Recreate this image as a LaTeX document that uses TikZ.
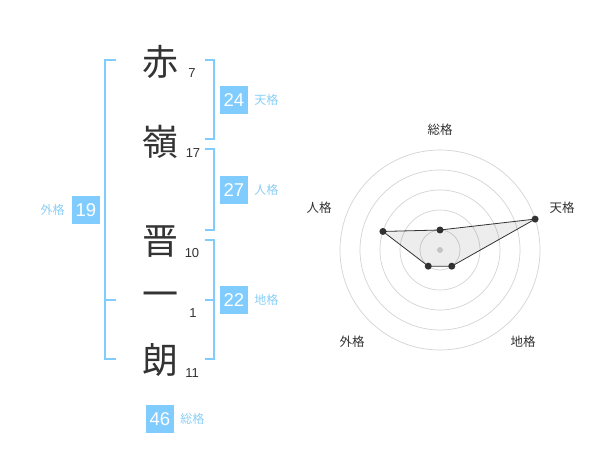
\documentclass[tikz,border=0pt]{standalone}
\usepackage{fontspec}
\setmainfont{Liberation Sans}
\newfontfamily\jp{Noto Sans CJK JP}
\usetikzlibrary{positioning}

\definecolor{kakublue}{HTML}{80CCFF}
\definecolor{kakutext}{HTML}{8ACFF6}
\definecolor{inkgray}{HTML}{333333}
\definecolor{ringgray}{HTML}{D4D4D4}

\begin{document}
\begin{tikzpicture}[
    x=1pt,y=-1pt,
    kanji/.style={font=\jp\fontsize{36}{36}\selectfont,text=inkgray,inner sep=0pt},
    strokes/.style={font=\fontsize{13}{13}\selectfont,text=inkgray,inner sep=0pt},
    score/.style={fill=kakublue,text=white,minimum size=28pt,inner sep=0pt,
        font=\fontsize{18.5}{18.5}\selectfont},
    kaku/.style={font=\jp\fontsize{12}{12}\selectfont,text=kakutext,inner sep=0pt},
    bracket/.style={draw=kakublue,line width=2pt},
    ring/.style={draw=ringgray,line width=0.7pt},
    axis/.style={font=\jp\fontsize{12.5}{12.5}\selectfont,text=inkgray,inner sep=0pt},
    dot/.style={circle,fill=inkgray,minimum size=7pt,inner sep=0pt}
]
\path[use as bounding box,fill=white] (0,0) rectangle (600,470);

% name, one character per line, with stroke counts
\node[kanji] (c1) at (160,62) {赤};
\node[kanji] (c2) at (160,142) {嶺};
\node[kanji] (c3) at (160,242) {晋};
\node[kanji] (c4) at (160,300) {一};
\node[kanji] (c5) at (160,360) {朗};
\node[strokes] (n1) at (192,73) {7};
\node[strokes] (n2) at (193,153) {17};
\node[strokes] (n3) at (192,253) {10};
\node[strokes] (n4) at (193,313) {1};
\node[strokes] (n5) at (192,373) {11};

\draw[bracket] (116,60) -| (105,359) -- (116,359);
\draw[bracket] (105,300) -- (116,300);
\draw[bracket] (205,60) -| (214,139) -- (205,139);
\draw[bracket] (205,149) -| (214,230) -- (205,230);
\draw[bracket] (205,240) -| (214,359) -- (205,359);
\draw[bracket] (205,300) -- (214,300);

\node[score] (ten) at (234,100) {24};
\node[kaku,right=6pt of ten] (tenl) {天格};
\node[score] (jin) at (234,190) {27};
\node[kaku,right=6pt of jin] (jinl) {人格};
\node[score] (chi) at (234,300) {22};
\node[kaku,right=6pt of chi] (chil) {地格};
\node[score] (gai) at (86,210) {19};
\node[kaku,left=7pt of gai] (gail) {外格};
\node[score] (sou) at (160,419) {46};
\node[kaku,right=6pt of sou] (soul) {総格};

% radar chart
\begin{scope}[shift={(440,250)},y=1pt]
\foreach \r in {20,40,...,100}
    \draw[ring] (0,0) circle (\r pt);
\fill[ringgray] (0,0) circle (3pt);
\node[dot] (p1) at (90:20) {};
\node[dot] (p2) at (18:100) {};
\node[dot] (p3) at (-54:20) {};
\node[dot] (p4) at (-126:20) {};
\node[dot] (p5) at (162:60) {};
\filldraw[fill=black,fill opacity=0.07,draw=inkgray,line width=0.8pt]
    (p1.center) -- (p2.center) -- (p3.center) -- (p4.center) -- (p5.center) -- cycle;
\node[axis] (a1) at (0,120) {総格};
\node[axis] (a2) at (122,42) {天格};
\node[axis] (a3) at (83,-92) {地格};
\node[axis] (a4) at (-88,-92) {外格};
\node[axis] (a5) at (-121,42) {人格};
\end{scope}
\end{tikzpicture}
\end{document}
